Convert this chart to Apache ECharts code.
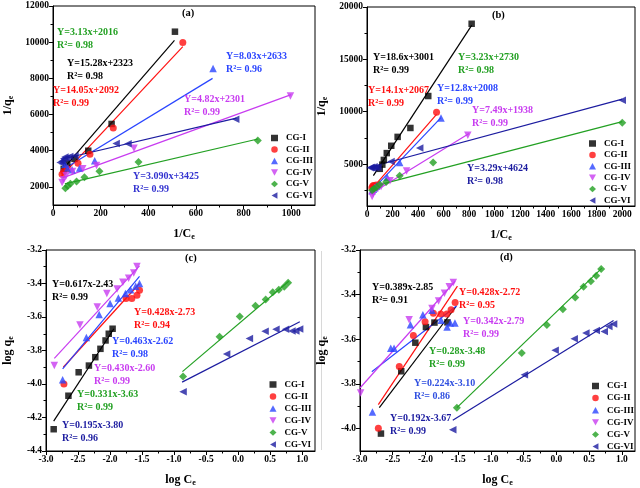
<!DOCTYPE html>
<html><head><meta charset="utf-8">
<script src="https://cdn.jsdelivr.net/npm/echarts@6/dist/echarts.min.js"></script>
<style>html,body{margin:0;padding:0;background:#fff}#c{width:640px;height:488px}</style>
</head><body><div id="c"></div>
<script>
// ---------- DATA ----------
const seriesNames = ['CG-I','CG-II','CG-III','CG-IV','CG-V','CG-VI'];

// Panel (a): 1/qe vs 1/Ce
const a_I   = [[45,3000],[60,3300],[90,3550],[148,4000],[246,5480],[512,10580]];
const a_II  = [[38,2700],[45,2850],[60,3000],[105,3310],[155,3810],[253,5250],[545,9980]];
const a_III = [[42,3450],[50,3250],[62,3050],[80,2950],[112,3050],[175,3450],[672,8550]];
const a_IV  = [[38,2250],[45,2400],[55,2620],[82,2850],[125,3000],[183,3180],[340,4140],[997,7030]];
const a_V   = [[52,1920],[62,2050],[73,2170],[99,2300],[132,2530],[195,2870],[359,3380],[860,4560]];
const a_VI  = [[30,3350],[38,3420],[45,3550],[50,3650],[58,3600],[70,3680],[92,3720],[265,4400],[315,4380],[767,5740]];
const af_I   = [[40,2950],[510,10100]];
const af_II  = [[35,2580],[545,9750]];
const af_III = [[40,2950],[670,8000]];
const af_IV  = [[40,2500],[1000,7100]];
const af_V   = [[50,2170],[860,4650]];
const af_VI  = [[35,3530],[770,5800]];

// Panel (b): 1/qe vs 1/Ce
const b_I   = [[100,4550],[120,4950],[132,5400],[155,6050],[190,6750],[240,7600],[340,8450],[480,11500],[820,18400]];
const b_II  = [[38,2750],[45,2900],[52,2950],[62,2850],[72,3000],[545,9950]];
const b_III = [[40,2450],[50,2600],[60,2750],[75,2900],[158,3750],[256,5150],[580,9400]];
const b_IV  = [[40,1900],[48,2200],[60,2450],[85,2700],[110,2850],[180,3400],[310,4350],[790,7750]];
const b_V   = [[40,2500],[55,2650],[75,2800],[100,3050],[150,3300],[256,3900],[518,5150],[2000,8950]];
const b_VI  = [[25,4650],[35,4700],[45,4600],[55,4750],[68,4650],[85,4700],[188,5250],[413,6530],[2000,11100]];
const bf_I   = [[50,3900],[820,18250]];
const bf_II  = [[40,2650],[545,9750]];
const bf_III = [[40,2520],[580,9430]];
const bf_IV  = [[40,2240],[800,7930]];
const bf_V   = [[40,2850],[2000,9050]];
const bf_VI  = [[30,4720],[2000,11200]];

// Panel (c): log qe vs log Ce
const c_I   = [[-2.88,-4.27],[-2.65,-4.07],[-2.49,-3.93],[-2.33,-3.89],[-2.23,-3.84],[-2.15,-3.79],[-2.07,-3.74],[-2.02,-3.70],[-1.96,-3.67]];
const c_II  = [[-2.72,-4.0],[-1.75,-3.49],[-1.66,-3.49],[-1.58,-3.47],[-1.54,-3.44]];
const c_III = [[-2.74,-3.975],[-2.37,-3.723],[-2.17,-3.585],[-2.0,-3.52],[-1.87,-3.486],[-1.76,-3.46],[-1.68,-3.437],[-1.6,-3.417],[-1.54,-3.4]];
const c_IV  = [[-2.87,-3.89],[-2.47,-3.648],[-2.2,-3.54],[-2.05,-3.46],[-1.89,-3.433],[-1.8,-3.393],[-1.71,-3.368],[-1.63,-3.338],[-1.58,-3.299]];
const c_V   = [[-0.86,-3.955],[-0.29,-3.718],[0.025,-3.597],[0.27,-3.533],[0.43,-3.496],[0.54,-3.452],[0.635,-3.437],[0.72,-3.419],[0.78,-3.395]];
const c_VI  = [[-0.86,-4.047],[-0.18,-3.821],[0.175,-3.728],[0.42,-3.685],[0.59,-3.673],[0.74,-3.673],[0.84,-3.684],[0.9,-3.684],[0.96,-3.671]];
const cf_I   = [[-2.88,-4.222],[-1.94,-3.67]];
const cf_II  = [[-2.73,-3.9],[-1.54,-3.4]];
const cf_III = [[-2.74,-3.91],[-1.54,-3.358]];
const cf_IV  = [[-2.87,-3.847],[-1.54,-3.295]];
const cf_V   = [[-0.87,-3.926],[0.79,-3.387]];
const cf_VI  = [[-0.875,-3.989],[0.963,-3.628]];

// Panel (d): log qe vs log Ce
const d_I   = [[-2.68,-4.022],[-2.37,-3.743],[-2.155,-3.615],[-1.993,-3.545],[-1.863,-3.525],[-1.665,-3.524]];
const d_II  = [[-2.72,-3.998],[-2.4,-3.722],[-2.185,-3.583],[-2.006,-3.521],[-1.879,-3.483],[-1.766,-3.487],[-1.674,-3.487],[-1.609,-3.468],[-1.547,-3.435]];
const d_III = [[-2.81,-3.925],[-2.53,-3.64],[-2.48,-3.64],[-2.23,-3.535],[-2.04,-3.49],[-1.9,-3.47],[-1.76,-3.515],[-1.67,-3.545],[-1.62,-3.527],[-1.55,-3.527]];
const d_IV  = [[-2.99,-3.84],[-2.25,-3.512],[-1.9,-3.462],[-1.8,-3.428],[-1.71,-3.394],[-1.637,-3.364],[-1.575,-3.345]];
const d_V   = [[-1.52,-3.906],[-0.53,-3.661],[-0.146,-3.536],[0.098,-3.465],[0.287,-3.413],[0.414,-3.365],[0.526,-3.34],[0.608,-3.315],[0.684,-3.285]];
const d_VI  = [[-1.583,-4.005],[-0.49,-3.759],[-0.02,-3.649],[0.271,-3.597],[0.45,-3.572],[0.608,-3.561],[0.73,-3.565],[0.8,-3.543],[0.873,-3.531]];
const df_I   = [[-2.705,-3.906],[-1.532,-3.453]];
const df_II  = [[-2.72,-3.892],[-1.512,-3.362]];
const df_III = [[-2.82,-3.745],[-1.522,-3.45]];
const df_IV  = [[-3.0,-3.818],[-1.548,-3.34]];
const df_V   = [[-1.52,-3.906],[0.694,-3.281]];
const df_VI  = [[-1.583,-3.962],[0.873,-3.516]];

// Tick values
const a_xTicks = [0,200,400,600,800,1000];
const a_xMinor = [100,300,500,700,900];
const a_yTicks = [2000,4000,6000,8000,10000,12000];
const a_yMinor = [3000,5000,7000,9000,11000];
const b_xTicks = [0,200,400,600,800,1000,1200,1400,1600,1800,2000];
const b_xMinor = [100,300,500,700,900,1100,1300,1500,1700,1900];
const b_yTicks = [5000,10000,15000,20000];
const b_yMinor = [2500,7500,12500,17500];
const c_xTicks = [-3.0,-2.5,-2.0,-1.5,-1.0,-0.5,0.0,0.5,1.0];
const c_xMinor = [-2.75,-2.25,-1.75,-1.25,-0.75,-0.25,0.25,0.75];
const c_yTicks = [-4.4,-4.2,-4.0,-3.8,-3.6,-3.4,-3.2];
const c_yMinor = [-4.3,-4.1,-3.9,-3.7,-3.5,-3.3];
const d_yTicks = [-4.0,-3.8,-3.6,-3.4,-3.2];
const d_yMinor = [-3.9,-3.7,-3.5,-3.3];

// Fit equations text
const a_eq = [['Y=3.13x+2016','R²= 0.98'],['Y=15.28x+2323','R²= 0.98'],['Y=14.05x+2092','R²= 0.99'],['Y=8.03x+2633','R²= 0.96'],['Y=4.82x+2301','R²= 0.99'],['Y=3.090x+3425','R²= 0.99']];
const b_eq = [['Y=18.6x+3001','R²= 0.99'],['Y=3.23x+2730','R²= 0.98'],['Y=14.1x+2067','R²= 0.99'],['Y=12.8x+2008','R²= 0.99'],['Y=7.49x+1938','R²= 0.99'],['Y=3.29x+4624','R²= 0.98']];
const c_eq = [['Y=0.617x-2.43','R²= 0.99'],['Y=0.428x-2.73','R²= 0.94'],['Y=0.463x-2.62','R²= 0.98'],['Y=0.430x-2.60','R²= 0.99'],['Y=0.331x-3.63','R²= 0.99'],['Y=0.195x-3.80','R²= 0.96']];
const d_eq = [['Y=0.389x-2.85','R²= 0.91'],['Y=0.428x-2.72','R²= 0.95'],['Y=0.342x-2.79','R²= 0.99'],['Y=0.28x-3.48','R²= 0.99'],['Y=0.224x-3.10','R²= 0.86'],['Y=0.192x-3.67','R²= 0.99']];
const panelLabels = ['(a)','(b)','(c)','(d)'];

// ---------- STYLE / LAYOUT ----------
const FONT = '"Liberation Serif","Times New Roman",serif';
const C = {k:'#000000', r:'#ff1010', b:'#2a45ff', m:'#c83cf0', g:'#22a022', n:'#1c1ca0'};
const colors = [C.k, C.r, C.b, C.m, C.g, C.n];
const TRI_DOWN = 'path://M0,0L10,0L5,9Z';
const TRI_LEFT = 'path://M9,0L9,10L0,5Z';
const syms = [['rect',6.5],['circle',7],['triangle',7.5],[TRI_DOWN,7.5],['diamond',8],[TRI_LEFT,7.5]];
const legendIcons = ['rect','circle','triangle',TRI_DOWN,'diamond',TRI_LEFT];

const grids = [
  {left:47, top:6, width:268, height:199},
  {left:367, top:7, width:268, height:199},
  {left:46, top:250, width:269, height:203},
  {left:360, top:250, width:275, height:202}
];

const xAxes = [], yAxes = [];
function addAxes(list, gi, pos, min, max, major, minor, fmt, name, nameGap) {
  list.push({type:'value', gridIndex:gi, position:pos, min, max,
    axisLine:{show:true, onZero:false, lineStyle:{color:'#000', width:1}},
    axisTick:{show:true, customValues:major, length:4, lineStyle:{color:'#000', width:1}},
    axisLabel:{customValues:major, formatter:fmt, color:'#000', fontFamily:FONT, fontWeight:'bold', fontSize:9.5, margin:4},
    splitLine:{show:false},
    name:name, nameLocation:'middle', nameGap:nameGap,
    nameTextStyle:{color:'#000', fontFamily:FONT, fontWeight:'bold', fontSize:12, lineHeight:14,
      rich:{s:{fontFamily:FONT, fontWeight:'bold', fontSize:8, verticalAlign:'bottom', lineHeight:9}}}
  });
  list.push({type:'value', gridIndex:gi, position:pos, min, max,
    axisLine:{show:false, onZero:false},
    axisTick:{show:true, customValues:minor, length:2.5, lineStyle:{color:'#000', width:1}},
    axisLabel:{show:false, customValues:minor},
    splitLine:{show:false}
  });
}
const fInt = v => String(Math.round(v));
const f1 = v => v.toFixed(1);
addAxes(xAxes,0,'bottom',0,1100,a_xTicks,a_xMinor,fInt,'1/C{s|e}',22);
addAxes(yAxes,0,'left',1000,12000,a_yTicks,a_yMinor,fInt,'1/q{s|e}',38);
addAxes(xAxes,1,'bottom',0,2100,b_xTicks,b_xMinor,fInt,'1/C{s|e}',22);
addAxes(yAxes,1,'left',1000,20000,b_yTicks,b_yMinor,fInt,'1/q{s|e}',38);
addAxes(xAxes,2,'bottom',-3,1.2,c_xTicks,c_xMinor,f1,'log C{s|e}',22);
addAxes(yAxes,2,'left',-4.4,-3.2,c_yTicks,c_yMinor,f1,'log q{s|e}',31);
addAxes(xAxes,3,'bottom',-3,1.2,c_xTicks,c_xMinor,f1,'log C{s|e}',22);
addAxes(yAxes,3,'left',-4.1,-3.2,d_yTicks,d_yMinor,f1,'log q{s|e}',31);

const panelPts = [[a_I,a_II,a_III,a_IV,a_V,a_VI],[b_I,b_II,b_III,b_IV,b_V,b_VI],[c_I,c_II,c_III,c_IV,c_V,c_VI],[d_I,d_II,d_III,d_IV,d_V,d_VI]];
const panelFits = [[af_I,af_II,af_III,af_IV,af_V,af_VI],[bf_I,bf_II,bf_III,bf_IV,bf_V,bf_VI],[cf_I,cf_II,cf_III,cf_IV,cf_V,cf_VI],[df_I,df_II,df_III,df_IV,df_V,df_VI]];

const series = [];
panelPts.forEach((pts, gi) => {
  pts.forEach((d, i) => {
    series.push({type:'line', name:'fit'+gi+i, xAxisIndex:2*gi, yAxisIndex:2*gi, data:panelFits[gi][i],
      symbol:'none', silent:true, lineStyle:{color:colors[i], width:1.2}, z:2});
  });
  pts.forEach((d, i) => {
    series.push({type:'scatter', name:seriesNames[i], xAxisIndex:2*gi, yAxisIndex:2*gi, data:d,
      symbol:syms[i][0], symbolSize:syms[i][1],
      itemStyle:{color:colors[i]}, z:3, clip:true});
  });
});

const legendPos = [{left:271, top:133.5},{left:589, top:139},{left:269.5, top:380},{left:592, top:381.5}];
const legendGaps = [2.5,2.4,3,3.1];
const legends = legendPos.map((p,gi) => ({
  data:seriesNames.map((n,i) => ({name:n, icon:legendIcons[i]})),
  orient:'vertical', left:p.left, top:p.top, itemWidth:7, itemHeight:6.5, itemGap:legendGaps[gi],
  selectedMode:false, padding:0,
  textStyle:{color:'#000', fontFamily:FONT, fontWeight:'bold', fontSize:9, lineHeight:8, padding:[0,0,0,3]}
}));

// annotation layout: [left, top, colour] for each equation pair (second line below)
const eqLayout = [
  [[57,27,C.g],[67,58,C.k],[53,85,C.r],[226,51,C.b],[184,94,C.m],[133,171,'#3434d0']],
  [[373,52,C.k],[458,52,C.g],[368,85,C.r],[437,83,C.b],[472,105,C.m],[467,163,C.n]],
  [[52,279,C.k],[134,307,C.r],[112,336,C.b],[94,363,C.m],[77,389,C.g],[62,420,C.n]],
  [[372,282,C.k],[459,287,C.r],[463,316,C.m],[429,346,C.g],[414,378,'#3050e0'],[390,413,C.n]]
];
const labelPos = [[182,8],[492,10],[185,253],[500,252]];
const allEq = [a_eq,b_eq,c_eq,d_eq];
const graphics = [];
allEq.forEach((eqs, gi) => {
  eqs.forEach((pair, i) => {
    const [x,y,col] = eqLayout[gi][i];
    graphics.push({type:'text', left:x, top:y, z:10, style:{text:pair[0], fill:col, font:'bold 10px '+FONT}});
    graphics.push({type:'text', left:x, top:y+13.5, z:10, style:{text:pair[1], fill:col, font:'bold 10px '+FONT}});
  });
  graphics.push({type:'text', left:labelPos[gi][0], top:labelPos[gi][1], z:10, style:{text:panelLabels[gi], fill:'#000', font:'bold 10.5px '+FONT}});
});
graphics.push({type:'line', z:0, shape:{x1:321.5, y1:251, x2:321.5, y2:450}, style:{stroke:'#d8d8d8', lineWidth:1}});

const chart = echarts.init(document.getElementById('c'), null, {renderer:'canvas'});
chart.setOption({
  animation:false,
  backgroundColor:'#fff',
  grid: grids.map(g => Object.assign({show:true, borderColor:'#000', borderWidth:1, backgroundColor:'transparent'}, g)),
  xAxis: xAxes, yAxis: yAxes,
  legend: legends,
  series: series,
  graphic: graphics
});
</script></body></html>
